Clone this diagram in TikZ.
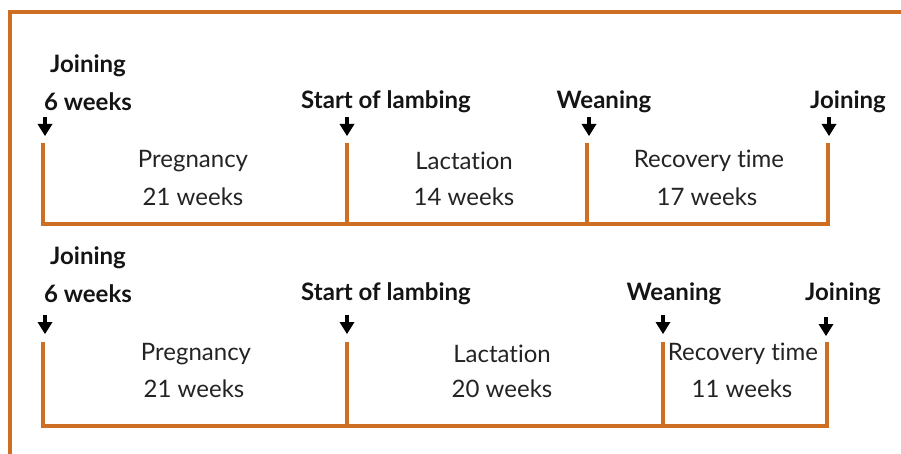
\documentclass[tikz,border=0pt]{standalone}
\usepackage{fontspec}
\setmainfont{Lato}[Ligatures=NoCommon]
\definecolor{rust}{RGB}{205,110,35}
\definecolor{txt}{RGB}{35,35,35}
\definecolor{txtb}{RGB}{20,20,20}
\tikzset{
  bar/.style={draw=rust, line width=3.2pt},
  frame/.style={draw=rust, line width=3.2pt},
  evt/.style={font=\fontsize{24}{28}\selectfont\bfseries, text=txtb, inner sep=0pt},
  phase/.style={font=\fontsize{24}{28}\selectfont, text=txt, inner sep=0pt, align=center},
  shaft/.style={draw=black, line width=3.4pt},
  tri/.style={fill=black}
}
\newcommand{\downmark}[2]{% x, top y
  \draw[shaft] (#1,#2) -- ++(0,9);
  \fill[tri] (#1-7.5,#2+7) -- (#1+7.5,#2+7) -- (#1,#2+19) -- cycle;
}
\begin{document}
\begin{tikzpicture}[x=1pt,y=-1pt]
\useasboundingbox (0,0) rectangle (901,454);
% frame
\coordinate (fTR) at (901,12);
\coordinate (fTL) at (10,12);
\coordinate (fBL) at (10,454);
\draw[frame] (fTR) -- (fTL) -- (fBL);

% ---------- top timeline ----------
\coordinate (a0) at (43,143); \coordinate (a0b) at (43,224);
\coordinate (a1) at (347,143); \coordinate (a1b) at (347,224);
\coordinate (a2) at (587,143); \coordinate (a2b) at (587,224);
\coordinate (a3) at (828,143); \coordinate (a3b) at (828,224);
\draw[bar] (a0) -- (a0b) -- (a3b) -- (a3);
\draw[bar] (a1) -- (a1b);
\draw[bar] (a2) -- (a2b);

\node[evt] (tj1) at (88,66) {Joining};
\node[evt] (tw1) at (88,102) {6 weeks};
\node[evt] (tl1) at (386,102) {Start of lambing};
\node[evt] (tn1) at (604,102) {Weaning};
\node[evt] (tr1) at (848,102) {Joining};

\downmark{45}{117}
\downmark{347}{117}
\downmark{589}{117}
\downmark{829}{117}

\node[phase] (p1) at (193,161) {Pregnancy};
\node[phase] (p1w) at (193,197) {21 weeks};
\node[phase] (l1) at (464,161) {Lactation};
\node[phase] (l1w) at (464,197) {14 weeks};
\node[phase] (r1) at (709,161) {Recovery time};
\node[phase] (r1w) at (707,197) {17 weeks};

% ---------- bottom timeline ----------
\coordinate (b0) at (43,342); \coordinate (b0b) at (43,426);
\coordinate (b1) at (347,342); \coordinate (b1b) at (347,426);
\coordinate (b2) at (663,342); \coordinate (b2b) at (663,426);
\coordinate (b3) at (827,342); \coordinate (b3b) at (827,426);
\draw[bar] (b0) -- (b0b) -- (b3b) -- (b3);
\draw[bar] (b1) -- (b1b);
\draw[bar] (b2) -- (b2b);

\node[evt] (tj2) at (88,258) {Joining};
\node[evt] (tw2) at (88,294) {6 weeks};
\node[evt] (tl2) at (386,294) {Start of lambing};
\node[evt] (tn2) at (674,294) {Weaning};
\node[evt] (tr2) at (843,294) {Joining};

\downmark{45}{315}
\downmark{347}{315}
\downmark{663}{315}
\downmark{826}{317}

\node[phase] (p2) at (196,354) {Pregnancy};
\node[phase] (p2w) at (194,389) {21 weeks};
\node[phase] (l2) at (502,354) {Lactation};
\node[phase] (l2w) at (502,389) {20 weeks};
\node[phase] (r2) at (743,354) {Recovery time};
\node[phase] (r2w) at (742,389) {11 weeks};
\end{tikzpicture}
\end{document}
